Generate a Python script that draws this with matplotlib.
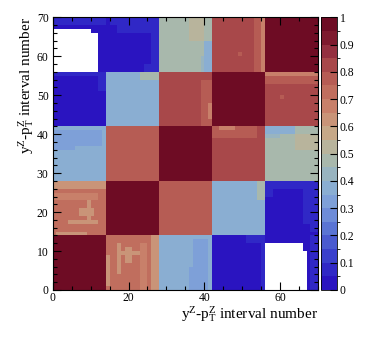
import numpy as np
import matplotlib
matplotlib.use("Agg")
import matplotlib.pyplot as plt
from matplotlib.colors import ListedColormap, BoundaryNorm
from matplotlib.ticker import MultipleLocator, FixedLocator

plt.rcParams['font.family'] = ['Liberation Serif', 'DejaVu Serif']
plt.rcParams['mathtext.fontset'] = 'custom'
plt.rcParams['mathtext.rm'] = 'Liberation Serif'
plt.rcParams['mathtext.it'] = 'Liberation Serif:italic'

# ---------------- data ----------------
n_bins = 70
block_size = 14
# average correlation between the 5 y^Z blocks of pT^Z intervals
block_corr = [
    [0.98, 0.72, 0.38, 0.02, 0.02],
    [0.72, 0.98, 0.77, 0.38, 0.02],
    [0.38, 0.77, 0.98, 0.82, 0.48],
    [0.02, 0.38, 0.82, 0.98, 0.82],
    [0.02, 0.02, 0.48, 0.82, 0.98],
]
# local deviations (y0, y1, x0, x1, value); mirrored across the diagonal
local_corr = [
    # block y0-14 / x14-28
    (0, 14, 26, 28, 0.64),
    (1, 9, 14, 15, 0.64),
    (4, 12, 17, 18, 0.64),
    (7, 11, 19, 21, 0.64),
    (9, 10, 17, 24, 0.64),
    (0, 12, 23, 25, 0.67),
    # block y0-14 / x28-42
    (0, 13, 37, 41, 0.33),
    (0, 6, 36, 37, 0.33),
    # block y14-28 / x42-56
    (23, 28, 54, 56, 0.46),
    # block y0-14 / x42-56
    (12, 14, 51, 56, 0.07),
    (0, 14, 55, 56, 0.07),
    # block y14-28 / x56-70
    (26, 28, 56, 70, 0.07),
    (24, 28, 56, 58, 0.07),
    (17, 28, 66, 70, 0.07),
    (15, 17, 68, 70, 0.07),
    # block y0-14 / x56-70
    (0, 14, 68, 70, 0.07),
    (0, 12, 56, 66, -0.05),
    (0, 10, 66, 67, -0.05),
    # block y28-42 / x42-56
    (39, 42, 42, 54, 0.77),
    (41, 42, 44, 48, 0.67),
    (28, 38, 53, 56, 0.84),
    # block y42-56 / x56-70
    (53, 55, 56, 70, 0.76),
    (55, 56, 56, 70, 0.66),
    (49, 50, 60, 61, 0.76),
    # block y28-42 / x56-70
    (40, 42, 56, 64, 0.38),
    (39, 40, 56, 60, 0.44),
    (36, 40, 64, 70, 0.53),
]

M = np.zeros((n_bins, n_bins))
n_blocks = len(block_corr)
for i in range(n_blocks):
    for j in range(n_blocks):
        M[i*block_size:(i+1)*block_size, j*block_size:(j+1)*block_size] = block_corr[i][j]
for y0, y1, x0, x1, v in local_corr:
    M[y0:y1, x0:x1] = v
    M[x0:x1, y0:y1] = v

cbar_ticks = [0, 0.1, 0.2, 0.3, 0.4, 0.5, 0.6, 0.7, 0.8, 0.9, 1.0]
x_major = [0, 20, 40, 60]
y_major = [0, 10, 20, 30, 40, 50, 60, 70]

# ---------------- style ----------------
palette = ['#2a14c0', '#3028c6', '#3a40cc', '#4a5ad0', '#5a74d4',
           '#6e8cd8', '#7ea0d8', '#8aaed2', '#98b4c0', '#a8b8ac',
           '#b8b49c', '#c6a888', '#c99478', '#c8806a', '#c06e5e',
           '#b65c54', '#a8484a', '#943040', '#7e1a2e', '#6e0c24']
cmap = ListedColormap(palette)
cmap.set_under('white')
norm = BoundaryNorm(np.linspace(0, 1, 21), ncolors=20)

W, H = 374, 346
fig = plt.figure(figsize=(W/100, H/100), dpi=100)
ax = fig.add_axes([52.7/W, 1-290/H, (318-52.7)/W, (290-17.3)/H])
cax = fig.add_axes([320.7/W, 1-290/H, (337-320.7)/W, (290-17.3)/H])

edges = np.arange(n_bins + 1)
mesh = ax.pcolormesh(edges, edges, M, cmap=cmap, norm=norm)
ax.set_xlim(0, n_bins)
ax.set_ylim(0, n_bins)

ax.xaxis.set_major_locator(FixedLocator(x_major))
ax.xaxis.set_minor_locator(MultipleLocator(5))
ax.yaxis.set_major_locator(FixedLocator(y_major))
ax.yaxis.set_minor_locator(MultipleLocator(2))
ax.tick_params(which='both', direction='in', top=True, right=True,
               labelsize=8.4, width=0.8, color='black')
ax.tick_params(axis='x', which='both', pad=1.5)
ax.tick_params(axis='y', which='both', pad=3)
ax.tick_params(which='major', length=6)
ax.tick_params(which='minor', length=3)
for s in ax.spines.values():
    s.set_linewidth(0.8)

cb = fig.colorbar(mesh, cax=cax, ticks=cbar_ticks)
cb.ax.set_yticklabels([f'{t:g}' for t in cbar_ticks])
cb.ax.tick_params(direction='in', length=5, width=0.8, labelsize=8.4, pad=2)
cb.outline.set_linewidth(0.6)

label = r'y$^{\rm Z}$-p$_{\rm T}^{\rm Z}$ interval number'
fig.text(318/W, 1-319/H, label, ha='right', va='baseline', fontsize=11)
fig.text(26.5/W, 1-17.3/H, label, ha='center', va='top', rotation=90, fontsize=11)

fig.savefig('out.png', dpi=100)
